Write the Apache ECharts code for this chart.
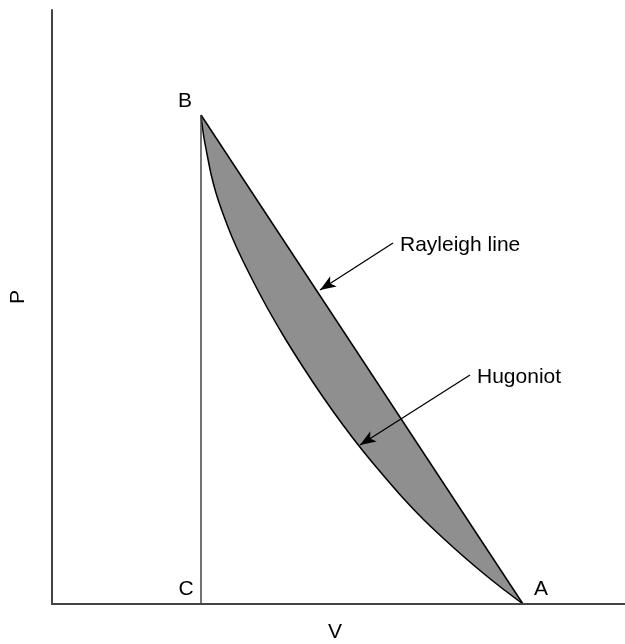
<!DOCTYPE html>
<html>
<head>
<meta charset="utf-8">
<script src="https://cdn.jsdelivr.net/npm/echarts@6/dist/echarts.min.js"></script>
<style>html,body{margin:0;padding:0;background:#fff}#c{width:625px;height:644px}</style>
</head>
<body>
<div id="c"></div>
<script>
// Data (arbitrary units: V to the right, P upward)
const rayleighV = [149, 471];
const rayleighP = [489, 0];
const hugoniotV = [149, 150, 152, 155, 159, 164, 170, 180, 191, 211, 231, 251, 271, 291, 311, 331, 351, 371, 391, 411, 431, 451, 471];
const hugoniotP = [489, 480, 466, 450, 430, 411, 393, 367, 343, 304, 269, 237, 207, 179, 153, 129, 106, 85, 66, 48, 31, 15, 0];
const verticalV = [149, 149];
const verticalP = [489, 0];
const pointLabels = ['B', 'C', 'A'];
const pointV = [149, 149, 471];
const pointP = [489, 0, 0];
const arrowLabels = ['Rayleigh line', 'Hugoniot'];
const arrowFromV = [341, 418];
const arrowFromP = [361, 229];
const arrowToV = [268, 308];
const arrowToP = [314, 159];
const xTitle = 'V';
const yTitle = 'P';

const font = "'Liberation Sans', Arial, sans-serif";
const zip = (a, b) => a.map((v, i) => [v, b[i]]);

const chart = echarts.init(document.getElementById('c'));
chart.setOption({
  animation: false,
  backgroundColor: '#fff',
  grid: { left: 52, right: 0, top: 10, bottom: 40, containLabel: false, outerBoundsMode: 'none' },
  xAxis: {
    type: 'value', min: 0, max: 573, z: 10,
    axisLine: { show: true, onZero: false, lineStyle: { color: '#444', width: 2 } },
    axisTick: { show: false }, axisLabel: { show: false }, splitLine: { show: false }
  },
  yAxis: {
    type: 'value', min: 0, max: 594, z: 10,
    axisLine: { show: true, onZero: false, lineStyle: { color: '#444', width: 2 } },
    axisTick: { show: false }, axisLabel: { show: false }, splitLine: { show: false }
  },
  series: [
    {
      type: 'line', data: zip(rayleighV, rayleighP), symbol: 'none',
      lineStyle: { width: 0 }, areaStyle: { color: '#8f8f8f', opacity: 1 }, z: 2
    },
    {
      type: 'line', data: zip(hugoniotV, hugoniotP), symbol: 'none', smooth: 0.2,
      lineStyle: { color: '#000', width: 1.5, join: 'round' }, areaStyle: { color: '#fff', opacity: 1 }, z: 3
    },
    {
      type: 'line', data: zip(rayleighV, rayleighP), symbol: 'none',
      lineStyle: { color: '#000', width: 1.5 }, z: 4
    },
    {
      type: 'line', data: zip(verticalV, verticalP), symbol: 'none',
      lineStyle: { color: '#444', width: 1.5 }, z: 4
    },
    {
      type: 'line', data: [], z: 6,
      markLine: {
        silent: true, symbol: ['none', 'arrow'], symbolSize: [9, 16],
        lineStyle: { color: '#000', width: 1.3, type: 'solid' },
        label: { show: false },
        data: arrowLabels.map((t, i) => [
          { coord: [arrowFromV[i], arrowFromP[i]], name: t },
          { coord: [arrowToV[i], arrowToP[i]] }
        ])
      }
    }
  ]
});

const tStyle = (t, align) => ({ text: t, font: '21px ' + font, fill: '#000', align: align, verticalAlign: 'middle' });
const offs = [[-16, -14], [-15, -15], [18, -15]];
const texts = pointLabels.map((t, i) => {
  const p = chart.convertToPixel({ gridIndex: 0 }, [pointV[i], pointP[i]]);
  return { type: 'text', x: p[0] + offs[i][0], y: p[1] + offs[i][1], z: 20, style: tStyle(t, 'center') };
});
arrowLabels.forEach((t, i) => {
  const p = chart.convertToPixel({ gridIndex: 0 }, [arrowFromV[i], arrowFromP[i]]);
  texts.push({ type: 'text', x: p[0] + 7, y: p[1] + 2, z: 20, style: tStyle(t, 'left') });
});
texts.push({ type: 'text', x: 335, y: 632, z: 20, style: tStyle(xTitle, 'center') });
texts.push({ type: 'text', x: 18, y: 297, rotation: Math.PI / 2, z: 20, style: tStyle(yTitle, 'center') });
chart.setOption({ graphic: texts });
</script>
</body>
</html>
